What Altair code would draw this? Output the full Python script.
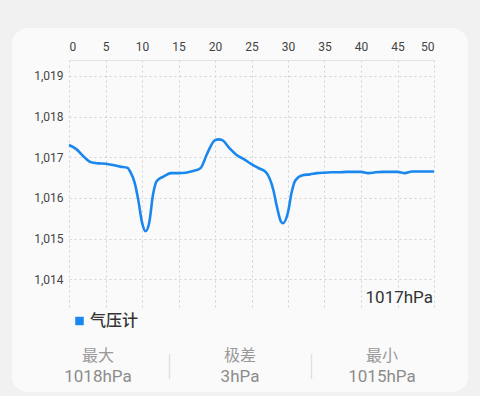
import altair as alt
import pandas as pd

# data
xs = [0, 1, 2, 3, 4, 5, 6, 7, 8, 8.4, 9, 9.5, 10, 10.5, 11, 11.5, 12, 13, 14, 15, 16, 17, 18,
      19, 20, 20.5, 21, 22, 23, 24, 25, 26, 27, 28, 28.5, 29, 29.3, 30, 30.5, 31, 32, 33, 34,
      35, 36, 37, 38, 39, 40, 41, 42, 43, 44, 45, 46, 47, 48, 49, 50]
pressure = [1017.30, 1017.20, 1017.02, 1016.88, 1016.85, 1016.84, 1016.81, 1016.77, 1016.74,
            1016.64, 1016.37, 1015.94, 1015.40, 1015.18, 1015.40, 1016.07, 1016.41, 1016.53,
            1016.61, 1016.61, 1016.62, 1016.66, 1016.73, 1017.12, 1017.42, 1017.44, 1017.42,
            1017.22, 1017.05, 1016.95, 1016.83, 1016.73, 1016.63, 1016.19, 1015.77, 1015.43,
            1015.38, 1015.65, 1016.14, 1016.43, 1016.56, 1016.58, 1016.61,
            1016.62, 1016.63, 1016.63, 1016.64, 1016.64, 1016.64, 1016.61, 1016.63, 1016.64,
            1016.64, 1016.64, 1016.61, 1016.65, 1016.65, 1016.65, 1016.65]
x_ticks = [0, 5, 10, 15, 20, 25, 30, 35, 40, 45, 50]
y_ticks = [1014, 1015, 1016, 1017, 1018, 1019]
series_name = "气压计"
current_label = "1017hPa"
stat_titles = ["最大", "极差", "最小"]
stat_values = ["1018hPa", "3hPa", "1015hPa"]

df = pd.DataFrame({"x": xs, "p": pressure})
one = pd.DataFrame({"a": [0]})

PL, PT = 69, 60
W, H = 365, 247
BLUE = "#1a87ee"
NUM_FONT = "Roboto"
CJK = "Noto Sans CJK SC"
OUTER = "#f1f1f1"
GRID = "#d2d2d2"

# gray frame around the rounded card (inner edge = card edge, radius 16)
D = 30
frame = alt.Chart(one).mark_rect(fill=None, fillOpacity=0, stroke=OUTER, strokeWidth=2 * D,
                                 cornerRadius=16 + D).encode(
    x=alt.value(12 - D - PL), x2=alt.value(468 + D - PL),
    y=alt.value(28 - D - PT), y2=alt.value(392 + D - PT))

line = alt.Chart(df).mark_line(color=BLUE, strokeWidth=2.6, interpolate="monotone").encode(
    x=alt.X("x:Q", scale=alt.Scale(domain=[0, 50], nice=False),
            axis=alt.Axis(orient="top", values=x_ticks, title=None, ticks=False,
                          labelPadding=7, labelFontSize=12, labelColor="#444",
                          labelFont=NUM_FONT,
                          domain=True, domainColor="#e2e2e2",
                          grid=True, gridColor=GRID, gridDash=[2, 3])),
    y=alt.Y("p:Q", scale=alt.Scale(domain=[1013.32, 1019.39], nice=False, zero=False),
            axis=alt.Axis(values=y_ticks, format=",d", title=None, ticks=False,
                          labelPadding=6, labelFontSize=12, labelColor="#444",
                          labelFont=NUM_FONT, domain=False,
                          grid=True, gridColor=GRID, gridDash=[2, 3])))

cur = alt.Chart(one).mark_text(text=current_label, align="right", baseline="alphabetic",
                               fontSize=17, font=NUM_FONT, color="#333333").encode(
    x=alt.value(433 - PL), y=alt.value(303 - PT))

legend_sq = alt.Chart(one).mark_square(color=BLUE, size=72, opacity=1).encode(
    x=alt.value(79.5 - PL), y=alt.value(321 - PT))
legend_txt = alt.Chart(one).mark_text(text=series_name, align="left", baseline="middle",
                                      fontSize=16, font=CJK, fontWeight=500, color="#333").encode(
    x=alt.value(90 - PL), y=alt.value(321 - PT))

layers = [line, cur, legend_sq, legend_txt]
centers = [98, 240, 382]
for cx, t, v in zip(centers, stat_titles, stat_values):
    layers.append(alt.Chart(one).mark_text(text=t, align="center", baseline="middle",
                                           fontSize=16, font=CJK, color="#999999").encode(
        x=alt.value(cx - PL), y=alt.value(356 - PT)))
    layers.append(alt.Chart(one).mark_text(text=v, align="center", baseline="middle",
                                           fontSize=17, font=NUM_FONT, color="#8c8c8c").encode(
        x=alt.value(cx - PL), y=alt.value(377 - PT)))
for sx in [169.5, 311.5]:
    layers.append(alt.Chart(one).mark_rule(color="#e0e0e0", strokeWidth=1.5).encode(
        x=alt.value(sx - PL), y=alt.value(354 - PT), y2=alt.value(379 - PT)))
layers.append(frame)

chart = alt.layer(*layers).properties(
    width=W, height=H,
    autosize=alt.AutoSizeParams(type="none"),
    padding={"left": PL, "top": PT, "right": 480 - PL - W, "bottom": 396 - PT - H},
    background="#fafafa",
).configure_view(stroke=None)

chart.save("out.html", embed_options={"renderer": "svg", "actions": False})
